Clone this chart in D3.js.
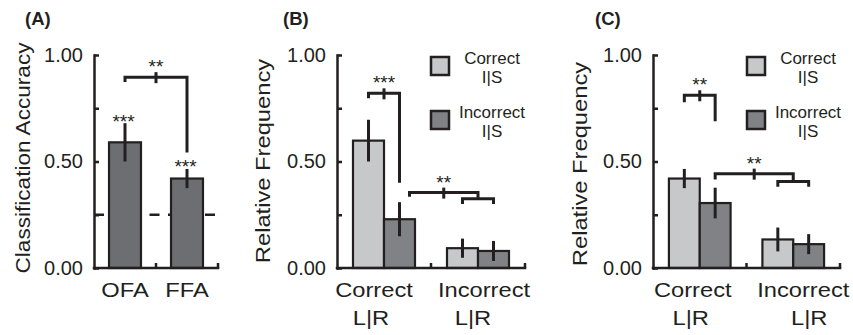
<!DOCTYPE html>
<html>
<head>
<meta charset="utf-8">
<script src="https://cdn.jsdelivr.net/npm/d3@7"></script>
<style>
  body { margin: 0; background: #fff; }
  text { font-family: "Liberation Sans", Arial, sans-serif; fill: #231f20; }
</style>
</head>
<body>
<svg id="chart" width="853" height="335"></svg>
<script>
// ---- data ----
// panel A: decoding accuracy per ROI
const roiNames = ['OFA', 'FFA'];
const roiAccuracy = [[0.59], [0.42]];
const roiError = [[0.09], [0.045]];
const roiStars = [['***'], ['***']];
const chanceLevel = 0.25;

// panels B, C: relative frequency, [L|R category][I|S series]
const lrCategories = ['Correct', 'Incorrect'];
const isSeries = ['Correct', 'Incorrect'];
const freqB = [[0.598, 0.229], [0.093, 0.080]];
const errB = [[0.098, 0.080], [0.045, 0.047]];
const freqC = [[0.420, 0.305], [0.134, 0.112]];
const errC = [[0.045, 0.072], [0.056, 0.047]];

const yTicks = [0, 0.25, 0.5, 0.75, 1];
const yTickLabels = ['0.00', '', '0.50', '', '1.00'];

// significance brackets: ends are [category, series] (or [category] = group centre), heights in axis units
const bracketsA = [
  {from: [0, 0], to: [1, 0], top: 0.896, dropFrom: 0.873, dropTo: 0.542, stars: '**'}
];
const bracketsB = [
  {from: [0, 0], to: [0, 1], top: 0.82, dropFrom: 0.797, dropTo: 0.40, stars: '***'},
  {from: [0, 1], to: [1], top: 0.354, dropFrom: 0.335, dropTo: 0.325, stars: '**', fromDx: 10},
  {from: [1, 0], to: [1, 1], top: 0.325, dropFrom: 0.30, dropTo: 0.30, stars: null}
];
const bracketsC = [
  {from: [0, 0], to: [0, 1], top: 0.811, dropFrom: 0.778, dropTo: 0.689, stars: '**'},
  {from: [0, 1], to: [1], top: 0.443, dropFrom: 0.415, dropTo: 0.406, stars: '**'},
  {from: [1, 0], to: [1, 1], top: 0.406, dropFrom: 0.382, dropTo: 0.382, stars: null}
];

// ---- style ----
const ink = '#231f20';
const stretch = 1.13; // the original labels are set a bit wider than Arial

const svg = d3.select('#chart');
const y = d3.scaleLinear().domain([0, 1]).range([268, 55]);

const panels = [
  {
    tag: '(A)', tagX: 25, title: 'Classification Accuracy', titleX: 30, titleY: 158, titleSize: 20,
    x0: 94, x1: 218, cats: roiNames, values: roiAccuracy, errors: roiError, stars: roiStars,
    fills: ['#6d6e71'], outerPad: 0.47, brackets: bracketsA, chance: chanceLevel,
    labels: [['OFA'], ['FFA']], labelDx: [[0], [0]]
  },
  {
    tag: '(B)', tagX: 283, title: 'Relative Frequency', titleX: 270, titleY: 161, titleSize: 21,
    x0: 337, x1: 525, cats: lrCategories, values: freqB, errors: errB,
    fills: ['#c7c8ca', '#808285'], outerPad: 0.516, brackets: bracketsB, legend: true,
    labels: [['Correct', 'L|R'], ['Incorrect', 'L|R']], labelDx: [[-10, -13], [6, -5]]
  },
  {
    tag: '(C)', tagX: 595, title: 'Relative Frequency', titleX: 587, titleY: 164, titleSize: 21,
    x0: 653, x1: 840, cats: lrCategories, values: freqC, errors: errC,
    fills: ['#c7c8ca', '#808285'], outerPad: 0.516, brackets: bracketsC, legend: true,
    labels: [['Correct', 'L|R'], ['Incorrect', 'L|R']], labelDx: [[-7, -9], [10, 16]]
  }
];

function wideText(g, x, yy, txt, size, rotate) {
  return g.append('text')
    .attr('transform', `translate(${x},${yy})` + (rotate ? ' rotate(-90)' : '') + ` scale(${stretch},1)`)
    .attr('text-anchor', 'middle')
    .attr('font-size', size)
    .text(txt);
}

panels.forEach(p => {
  const g = svg.append('g');
  const x = d3.scaleBand().domain(d3.range(p.cats.length)).range([p.x0, p.x1]);
  const nSeries = p.values[0].length;
  const xs = d3.scaleBand().domain(d3.range(nSeries)).range([0, x.bandwidth()])
    .paddingInner(0).paddingOuter(p.outerPad);
  const barCx = (c, s) => x(c) + xs(s) + xs.bandwidth() / 2;
  const endX = e => e.length === 1 ? x(e[0]) + x.bandwidth() / 2 : barCx(e[0], e[1]);

  // chance level
  if (p.chance != null) {
    g.append('line')
      .attr('x1', p.x0).attr('x2', p.x1)
      .attr('y1', y(p.chance)).attr('y2', y(p.chance))
      .attr('stroke', ink).attr('stroke-width', 2.5)
      .attr('stroke-dasharray', '10 8.5');
  }

  // bars
  const flat = [];
  p.values.forEach((row, c) => row.forEach((v, s) => flat.push({c, s, v, e: p.errors[c][s]})));
  g.append('g').selectAll('rect').data(flat).enter().append('rect')
    .attr('x', d => x(d.c) + xs(d.s))
    .attr('width', xs.bandwidth())
    .attr('y', d => y(d.v))
    .attr('height', d => y(0) - y(d.v))
    .attr('fill', d => p.fills[d.s])
    .attr('stroke', ink).attr('stroke-width', 2.2);

  // error bars
  g.append('g').selectAll('line').data(flat).enter().append('line')
    .attr('x1', d => barCx(d.c, d.s)).attr('x2', d => barCx(d.c, d.s))
    .attr('y1', d => y(d.v - d.e)).attr('y2', d => y(d.v + d.e))
    .attr('stroke', ink).attr('stroke-width', 3);

  // stars above bars
  if (p.stars) {
    g.append('g').selectAll('text').data(flat).enter().append('text')
      .attr('x', d => barCx(d.c, d.s) - 1.5)
      .attr('y', d => y(d.v + d.e) - 6.5 + 11)
      .attr('text-anchor', 'middle')
      .attr('font-size', 19)
      .text(d => p.stars[d.c][d.s]);
  }

  // y axis
  g.append('g')
    .attr('transform', `translate(${p.x0},0)`)
    .call(d3.axisLeft(y).tickValues(yTicks).tickSize(-5).tickSizeOuter(0).tickPadding(11)
      .tickFormat((d, i) => yTickLabels[i]))
    .call(a => {
      a.attr('font-family', null).attr('font-size', null);
      a.select('.domain').attr('stroke', ink).attr('stroke-width', 2.5).attr('stroke-linecap', 'square');
      a.selectAll('.tick line').attr('stroke', ink).attr('stroke-width', 2.5);
      a.selectAll('.tick text').attr('font-size', 20).attr('fill', ink);
    });

  // x axis: baseline and upward ticks at category boundaries
  g.append('line')
    .attr('x1', p.x0).attr('x2', p.x1).attr('y1', y(0)).attr('y2', y(0))
    .attr('stroke', ink).attr('stroke-width', 2.5).attr('stroke-linecap', 'square');
  g.append('g').selectAll('line').data(d3.range(p.cats.length)).enter().append('line')
    .attr('x1', c => x(c) + x.step()).attr('x2', c => x(c) + x.step())
    .attr('y1', y(0)).attr('y2', y(0) - 5)
    .attr('stroke', ink).attr('stroke-width', 2.5);

  // category labels
  p.labels.forEach((lines, c) => {
    lines.forEach((txt, k) => {
      wideText(g, x(c) + x.bandwidth() / 2 + p.labelDx[c][k], 297 + k * 28, txt, 21);
    });
  });

  // significance brackets
  p.brackets.forEach(b => {
    const xa = endX(b.from) + (b.fromDx || 0);
    const xb = endX(b.to);
    const yt = y(b.top);
    g.append('path')
      .attr('d', d3.line()([[xa, y(b.dropFrom)], [xa, yt], [xb, yt], [xb, y(b.dropTo)]]))
      .attr('fill', 'none').attr('stroke', ink).attr('stroke-width', 3);
    if (b.stars) {
      const xm = (xa + xb) / 2;
      g.append('line')
        .attr('x1', xm).attr('x2', xm).attr('y1', yt - 5).attr('y2', yt + 6)
        .attr('stroke', ink).attr('stroke-width', 3);
      g.append('text')
        .attr('x', xm).attr('y', yt - 15 + 11)
        .attr('text-anchor', 'middle').attr('font-size', 19)
        .text(b.stars);
    }
  });

  // legend
  if (p.legend) {
    isSeries.forEach((name, s) => {
      const top = 57 + s * 54;
      g.append('rect')
        .attr('x', p.x0 + 94).attr('y', top).attr('width', 18).attr('height', 18)
        .attr('fill', p.fills[s]).attr('stroke', ink).attr('stroke-width', 2.5);
      g.append('text')
        .attr('x', p.x0 + 155).attr('y', top + 7).attr('text-anchor', 'middle')
        .attr('font-size', 17).text(name);
      g.append('text')
        .attr('x', p.x0 + 155).attr('y', top + 26).attr('text-anchor', 'middle')
        .attr('font-size', 17).text('I|S');
    });
  }

  // axis title and panel tag
  wideText(g, p.titleX, p.titleY, p.title, p.titleSize, true);
  g.append('text')
    .attr('x', p.tagX).attr('y', 25)
    .attr('font-size', 18.5).attr('font-weight', 'bold')
    .text(p.tag);
});
</script>
</body>
</html>
